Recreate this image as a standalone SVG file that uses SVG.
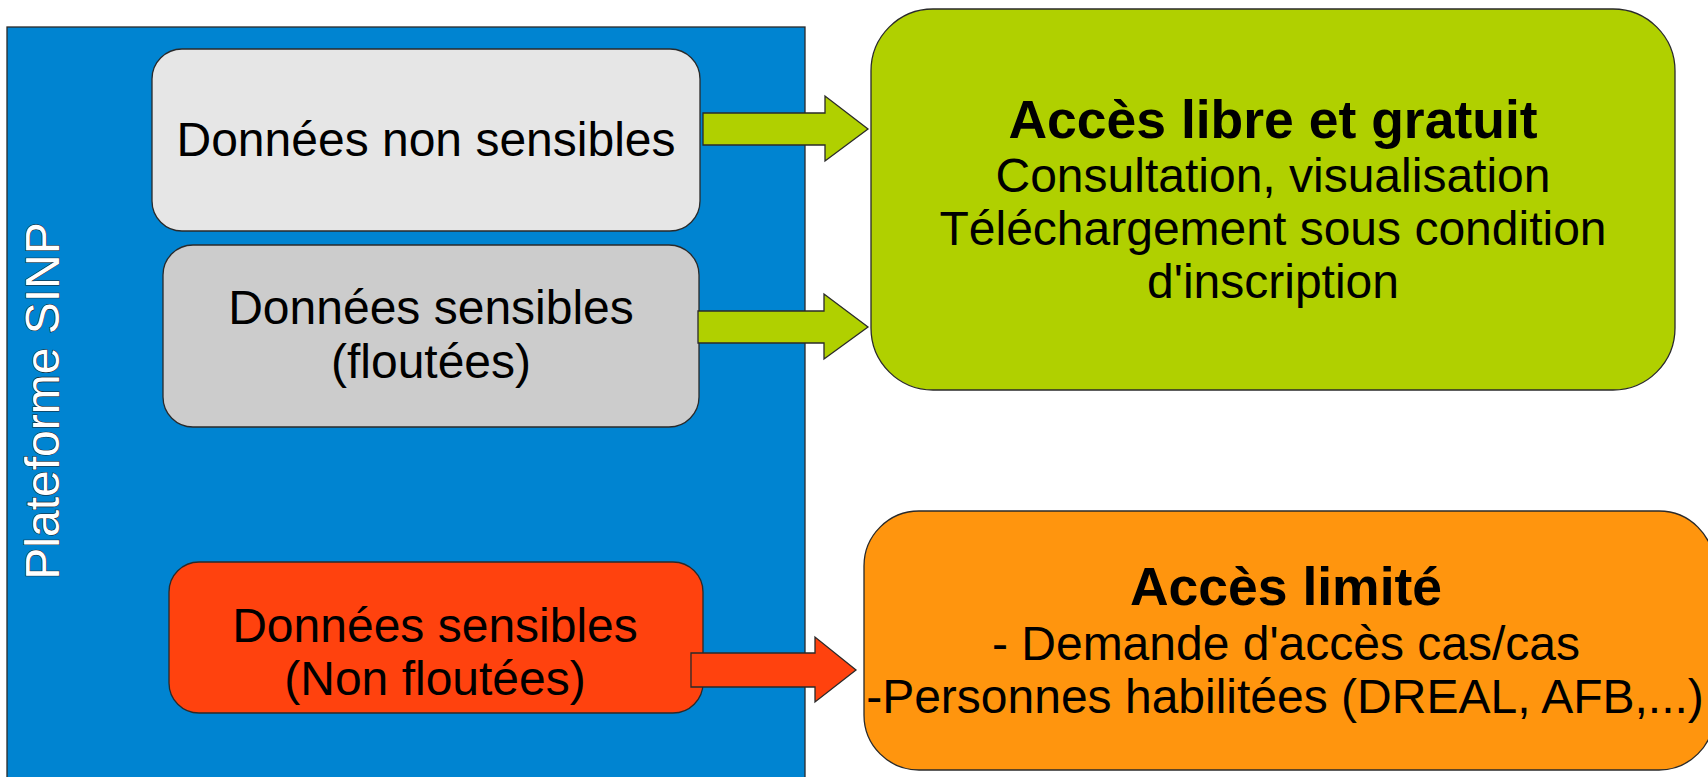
<svg xmlns="http://www.w3.org/2000/svg" width="1708" height="777" viewBox="0 0 1708 777">
<style>
  .box { stroke: #2a2a2a; stroke-width: 1.3; }
  .arrow { stroke: #2a2a2a; stroke-width: 1.3; stroke-linejoin: miter; }
  text { font-family: "Liberation Sans", Arial, sans-serif; font-size: 48px; fill: #000; text-anchor: middle; }
  .b { font-weight: bold; font-size: 53.5px; }
  .vert { fill: #ffffff; stroke: #1a1a1a; stroke-width: 1.1; paint-order: stroke; }
</style>
<rect width="1708" height="777" fill="#ffffff"/>
<g id="platform">
  <rect class="box" x="7" y="27" width="798" height="790" fill="#0084d1"/>
  <text class="vert" transform="translate(59,401) rotate(-90)">Plateforme SINP</text>
</g>
<g id="node-non-sensibles">
  <rect class="box" x="152" y="49" width="548" height="182" rx="30" fill="#e6e6e6"/>
  <text x="426" y="156">Données non sensibles</text>
</g>
<g id="node-sensibles-floutees">
  <rect class="box" x="163" y="245" width="536" height="182" rx="30" fill="#cccccc"/>
  <text x="431" y="324">Données sensibles</text>
  <text x="431" y="378">(floutées)</text>
</g>
<g id="node-sensibles-non-floutees">
  <rect class="box" x="169" y="562" width="534" height="151" rx="30" fill="#ff420e"/>
  <text x="435" y="642">Données sensibles</text>
  <text x="435" y="695">(Non floutées)</text>
</g>
<g id="node-acces-libre">
  <rect class="box" x="871" y="9" width="804" height="381" rx="62" fill="#b0d000"/>
  <text class="b" x="1273" y="138">Accès libre et gratuit</text>
  <text x="1273" y="192">Consultation, visualisation</text>
  <text x="1273" y="245">Téléchargement sous condition</text>
  <text x="1273" y="298">d'inscription</text>
</g>
<g id="node-acces-limite">
  <rect class="box" x="864" y="511" width="850" height="259" rx="55" fill="#ff950e"/>
  <text class="b" x="1286" y="605">Accès limité</text>
  <text x="1286" y="660">- Demande d'accès cas/cas</text>
  <text x="1285" y="713">-Personnes habilitées (DREAL, AFB,...)</text>
</g>
<g id="connectors">
  <polygon class="arrow" fill="#b0d000" points="703,113 825,113 825,96 868,129 825,161 825,145 703,145"/>
  <polygon class="arrow" fill="#b0d000" points="698,311 824,311 824,294 868,327 824,359 824,343 698,343"/>
  <polygon class="arrow" fill="#ff420e" points="691,653 815,653 815,637 856,670 815,702 815,687 691,687"/>
</g>
</svg>
